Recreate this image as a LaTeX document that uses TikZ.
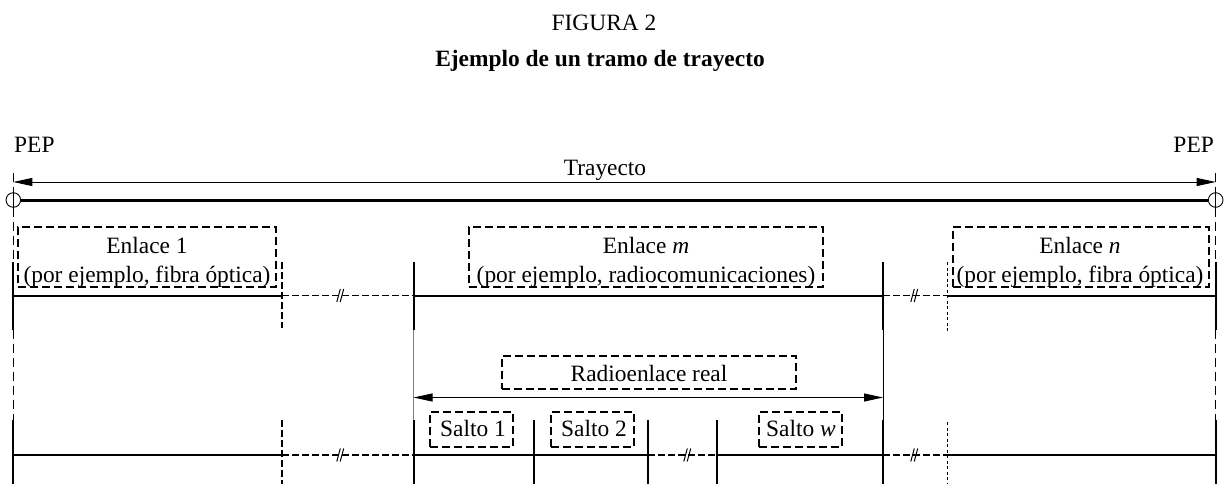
\documentclass[tikz,border=0pt]{standalone}
\usepackage{fontspec}
\setmainfont{Liberation Serif}
\usetikzlibrary{arrows.meta}
\tikzset{
  txt/.style={font=\fontsize{23.4}{28}\selectfont, inner sep=0pt},
  solidln/.style={line width=2pt},
  mainln/.style={line width=3pt},
  thinln/.style={line width=0.9pt},
  dbox/.style={draw, line width=1.8pt, dash pattern=on 8pt off 4pt, inner sep=0pt},
  brkln/.style={line width=1.8pt, dash pattern=on 6.5pt off 3.5pt},
  dotln/.style={line width=1pt, dash pattern=on 3pt off 2.5pt},
  pepln/.style={line width=0.9pt, dash pattern=on 9pt off 5pt},
  pepcirc/.style={circle, draw, line width=0.9pt, minimum size=14.6pt, inner sep=0pt},
  arr/.style={line width=0.9pt, {Triangle[length=19pt,width=8pt]}-{Triangle[length=19pt,width=8pt]}},
  brk/.pic={\draw[line width=1pt] (-3.2,6.5)--(0.3,-6.5) (0.2,6.5)--(3.7,-6.5);}
}
\begin{document}
\begin{tikzpicture}[x=1pt,y=-1pt]
\useasboundingbox (0,0) rectangle (1225,484);
% titles
\node[txt, anchor=base] (fig) at (604,31) {FIGURA 2};
\node[txt, anchor=base, font=\fontsize{23.4}{28}\selectfont\bfseries] (tit) at (600,67) {Ejemplo de un tramo de trayecto};
\node[txt, anchor=base west] (pepL) at (14,152) {PEP};
\node[txt, anchor=base east] (pepR) at (1214,152) {PEP};
\node[txt, anchor=base] (tray) at (605,175) {Trayecto};
% PEP circles and path
\node[pepcirc] (cL) at (13.3,200) {};
\node[pepcirc] (cR) at (1215.7,200) {};
\draw[mainln] (cL.east) -- (cR.west);
\coordinate (aL) at (13.3,182);
\coordinate (aR) at (1215.7,182);
\draw[arr] (aL) -- (aR);
% PEP dashed verticals
\foreach \x/\c in {13.3/cL,1215.7/cR}{
  \draw[pepln] (\x,173) -- (\c.north);
  \draw[thinln] (\c.north) -- (\c.south);
  \draw[pepln] (\c.south) -- (\x,262);
  \draw[pepln] (\x,330) -- (\x,420);
}
% x positions
\def\yu{295.5}
\def\yl{455}
\foreach \r/\y in {u/295.5,l/455}{
  \coordinate (A\r) at (13.3,\y);
  \coordinate (B\r) at (282,\y);
  \coordinate (C\r) at (413.5,\y);
  \coordinate (G\r) at (883,\y);
  \coordinate (H\r) at (947,\y);
  \coordinate (I\r) at (1215.7,\y);
}
\coordinate (Dl) at (534,455);
\coordinate (El) at (648,455);
\coordinate (Fl) at (717,455);
% upper row horizontal
\draw[solidln] (Au) -- (Bu);
\draw[brkln] (Bu) -- (Cu);
\draw[solidln] (Cu) -- (Gu);
\draw[brkln] (Gu) -- (Hu);
\draw[solidln] (Hu) -- (Iu);
\pic at (340,295.5) {brk};
\pic at (914,295.5) {brk};
% lower row horizontal
\draw[solidln] (Al) -- (Bl);
\draw[brkln] (Bl) -- (Cl);
\draw[solidln] (Cl) -- (El);
\draw[brkln] (El) -- (Fl);
\draw[solidln] (Fl) -- (Gl);
\draw[brkln] (Gl) -- (Hl);
\draw[solidln] (Hl) -- (Il);
\pic at (340,455) {brk};
\pic at (687,455) {brk};
\pic at (914,455) {brk};
% upper verticals
\foreach \x in {13.3,413.5,883,1215.7}{\draw[solidln] (\x,262) -- (\x,330);}
\draw[brkln] (282,262) -- (282,328);
\draw[dotln] (947,262) -- (947,332);
% lower verticals
\foreach \x in {13.3,413.5,534,648,717,883,1215.7}{\draw[solidln] (\x,420) -- (\x,484);}
\draw[brkln] (282,420) -- (282,484);
\draw[dotln] (947,422) -- (947,484);
% middle thin verticals
\draw[line width=1pt, gray] (413.5,330) -- (413.5,420);
\draw[thinln] (883,330) -- (883,420);
% radio link arrow
\coordinate (rL) at (413.5,397.5);
\coordinate (rR) at (883,397.5);
\draw[arr] (rL) -- (rR);
% dashed boxes
\node[dbox, minimum width=258pt, minimum height=60pt] (e1) at (147,257) {};
\node[dbox, minimum width=354pt, minimum height=60pt] (em) at (646,257) {};
\node[dbox, minimum width=256pt, minimum height=60pt] (en) at (1081,257) {};
\node[dbox, minimum width=294pt, minimum height=33pt] (rr) at (649,372.5) {};
\node[dbox, minimum width=83pt, minimum height=35pt] (s1) at (471.5,429.5) {};
\node[dbox, minimum width=83pt, minimum height=35pt] (s2) at (592.5,429.5) {};
\node[dbox, minimum width=83pt, minimum height=35pt] (sw) at (800.5,429.5) {};
% box texts
\node[txt, anchor=base] (e1a) at (147,253) {Enlace 1};
\node[txt, anchor=base] (e1b) at (147,282) {(por ejemplo, fibra óptica)};
\node[txt, anchor=base] (ema) at (646,253) {Enlace \textit{m}};
\node[txt, anchor=base] (emb) at (646,282) {(por ejemplo, radiocomunicaciones)};
\node[txt, anchor=base] (ena) at (1080,253) {Enlace \textit{n}};
\node[txt, anchor=base] (enb) at (1080,282) {(por ejemplo, fibra óptica)};
\node[txt, anchor=base] (rrt) at (649,381.5) {Radioenlace real};
\node[txt, anchor=base] (s1t) at (473,436) {Salto 1};
\node[txt, anchor=base] (s2t) at (594,436) {Salto 2};
\node[txt, anchor=base] (swt) at (801,436) {Salto \textit{w}};
\end{tikzpicture}
\end{document}
